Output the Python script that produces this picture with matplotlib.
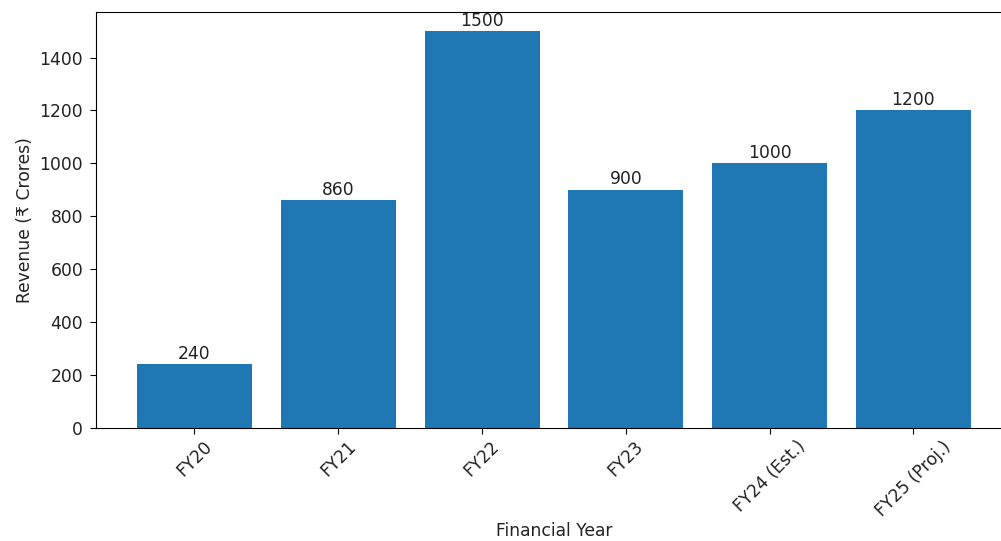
import matplotlib
matplotlib.use("Agg")
import matplotlib.pyplot as plt

years = ["FY20", "FY21", "FY22", "FY23", "FY24 (Est.)", "FY25 (Proj.)"]
revenue = [240, 860, 1500, 900, 1000, 1200]

plt.rcParams['font.size'] = 12.3
plt.rcParams['text.color'] = '#222222'
plt.rcParams['axes.labelcolor'] = '#222222'
plt.rcParams['xtick.labelcolor'] = '#222222'
plt.rcParams['ytick.labelcolor'] = '#222222'

fig = plt.figure(figsize=(10.01, 5.41), dpi=100)
ax = fig.add_axes([0.0959, 0.2089, 0.915, 0.7689])

bars = ax.bar(years, revenue, color='#1f77b4', width=0.8)
ax.bar_label(bars, padding=1)

ax.set_xlim(-0.685, 5.685)
ax.set_ylim(0, 1572)
ax.set_xlabel("Financial Year", labelpad=2)
ax.set_ylabel("Revenue (₹ Crores)")
ax.tick_params(axis='y', length=4.2, pad=5)
ax.tick_params(axis='x', length=4.2, pad=2.5)
plt.setp(ax.get_xticklabels(), rotation=45)

fig.savefig("out.png", dpi=100)
